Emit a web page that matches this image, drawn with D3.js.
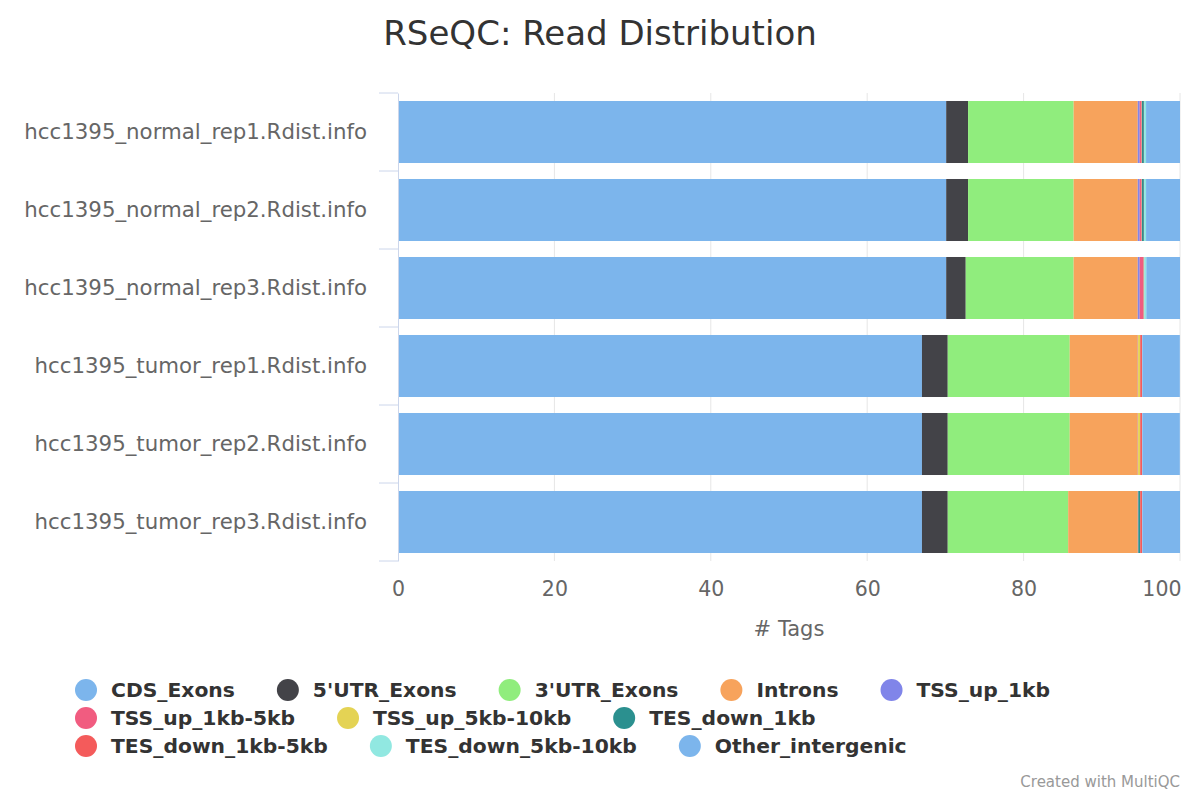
<!DOCTYPE html>
<html>
<head>
<meta charset="utf-8">
<script src="https://cdn.jsdelivr.net/npm/d3@7"></script>
<style>
  body { margin: 0; background: #fff; }
  svg, svg text { font-family: "DejaVu Sans", "Open Sans", sans-serif; }
</style>
</head>
<body>
<div id="chart"></div>
<script>
// samples, top to bottom
const samples = [
  "hcc1395_normal_rep1.Rdist.info",
  "hcc1395_normal_rep2.Rdist.info",
  "hcc1395_normal_rep3.Rdist.info",
  "hcc1395_tumor_rep1.Rdist.info",
  "hcc1395_tumor_rep2.Rdist.info",
  "hcc1395_tumor_rep3.Rdist.info"
];

const categories = [
  "CDS_Exons", "5'UTR_Exons", "3'UTR_Exons", "Introns", "TSS_up_1kb",
  "TSS_up_1kb-5kb", "TSS_up_5kb-10kb", "TES_down_1kb", "TES_down_1kb-5kb",
  "TES_down_5kb-10kb", "Other_intergenic"
];

const colors = [
  "#7cb5ec", "#434348", "#90ed7d", "#f7a35c", "#8085e9",
  "#f15c80", "#e4d354", "#2b908f", "#f45b5b", "#91e8e1", "#7cb5ec"
];

// percent of tags, one array per region (same order as samples)
const cdsExons        = [70.1, 70.1, 70.1, 67.0, 67.0, 67.0];
const utr5Exons       = [2.8, 2.8, 2.5, 3.3, 3.3, 3.3];
const utr3Exons       = [13.5, 13.5, 13.8, 15.6, 15.6, 15.4];
const introns         = [8.2, 8.2, 8.2, 8.7, 8.7, 8.9];
const tssUp1kb        = [0.25, 0.25, 0.25, 0.02, 0.02, 0.02];
const tssUp1to5kb     = [0.25, 0.25, 0.5, 0.02, 0.02, 0.02];
const tssUp5to10kb    = [0.03, 0.03, 0.03, 0.25, 0.25, 0.02];
const tesDown1kb      = [0.25, 0.25, 0.03, 0.02, 0.02, 0.25];
const tesDown1to5kb   = [0.03, 0.03, 0.03, 0.25, 0.25, 0.25];
const tesDown5to10kb  = [0.25, 0.25, 0.25, 0.02, 0.02, 0.02];
const otherIntergenic = [4.34, 4.34, 4.31, 4.80, 4.80, 4.82];

const seriesValues = [
  cdsExons, utr5Exons, utr3Exons, introns, tssUp1kb, tssUp1to5kb,
  tssUp5to10kb, tesDown1kb, tesDown1to5kb, tesDown5to10kb, otherIntergenic
];

const xTicks = [0, 20, 40, 60, 80, 100];

// rows for d3.stack
const rows = samples.map((s, i) => {
  const r = { sample: s };
  categories.forEach((c, k) => r[c] = seriesValues[k][i]);
  return r;
});

const W = 1200, H = 800;
const margin = { top: 93, right: 20, bottom: 239, left: 398 };
const width = W - margin.left - margin.right,
      height = H - margin.top - margin.bottom;

const svg = d3.select("#chart").append("svg")
  .attr("width", W)
  .attr("height", H);

// title
svg.append("text")
  .attr("x", W / 2).attr("y", 45)
  .attr("text-anchor", "middle")
  .attr("fill", "#333")
  .style("font-size", "34px")
  .text("RSeQC: Read Distribution");

const g = svg.append("g")
  .attr("transform", `translate(${margin.left},${margin.top})`);

const x = d3.scaleLinear().domain([0, 100]).range([0, width]);
const y = d3.scaleBand()
  .domain(samples)
  .range([0, height])
  .paddingInner(0.205)
  .paddingOuter(0.1025);

// grid lines
g.append("g")
  .selectAll("line")
  .data(xTicks.filter(d => d > 0))
  .enter().append("line")
    .attr("x1", d => x(d)).attr("x2", d => x(d))
    .attr("y1", 0).attr("y2", height)
    .attr("stroke", "#e6e6e6");

// stacked bars
const stack = d3.stack().keys(categories)(rows);
g.selectAll("g.series")
  .data(stack)
  .enter().append("g")
    .attr("class", "series")
    .attr("fill", (d, i) => colors[i])
  .selectAll("rect")
  .data(d => d)
  .enter().append("rect")
    .attr("x", d => x(d[0]))
    .attr("y", d => y(d.data.sample))
    .attr("width", d => x(d[1]) - x(d[0]))
    .attr("height", y.bandwidth());

// category axis
const yAxis = g.append("g")
  .call(d3.axisLeft(y).tickSize(0).tickPadding(31));
yAxis.attr("font-family", null);
yAxis.select(".domain").attr("stroke", "#ccd6eb");
yAxis.selectAll("text")
  .attr("fill", "#666")
  .style("font-size", "21.3px");

// tick marks between categories
const bounds = samples.map(s => y(s) - y.step() * y.paddingInner() / 2).concat([height]);
g.append("g")
  .selectAll("line")
  .data(bounds)
  .enter().append("line")
    .attr("x1", -19).attr("x2", 0)
    .attr("y1", d => d).attr("y2", d => d)
    .attr("stroke", "#ccd6eb");

// value axis
const xAxis = g.append("g")
  .attr("transform", `translate(0,${height})`)
  .call(d3.axisBottom(x).tickValues(xTicks).tickSize(0).tickPadding(20));
xAxis.attr("font-family", null);
xAxis.select(".domain").remove();
xAxis.selectAll("text")
  .attr("fill", "#666")
  .style("font-size", "20.5px");
// keep the last label inside the chart
xAxis.selectAll(".tick").filter(d => d === 100).select("text")
  .attr("text-anchor", "end")
  .attr("x", 1);

g.append("text")
  .attr("x", width / 2).attr("y", height + 75)
  .attr("text-anchor", "middle")
  .attr("fill", "#666")
  .style("font-size", "21px")
  .text("# Tags");

// legend, flowing left to right with wrap
const legend = svg.append("g").attr("class", "legend");
const legendLeft = 75, legendRight = 1100, rowH = 28, legendTop = 690;
let lx = legendLeft, ly = legendTop;
categories.forEach((c, i) => {
  const item = legend.append("g");
  item.append("circle")
    .attr("cx", 11).attr("cy", 0).attr("r", 11)
    .attr("fill", colors[i]);
  const t = item.append("text")
    .attr("x", 36).attr("y", 0)
    .attr("dy", "0.35em")
    .attr("fill", "#333")
    .style("font-size", "20.3px")
    .style("font-weight", "bold")
    .text(c);
  const w = 36 + t.node().getComputedTextLength();
  if (lx + w > legendRight && lx > legendLeft) {
    lx = legendLeft;
    ly += rowH;
  }
  item.attr("transform", `translate(${lx},${ly})`);
  lx += w + 42;
});

svg.append("text")
  .attr("x", 1180).attr("y", 787)
  .attr("text-anchor", "end")
  .attr("fill", "#999")
  .style("font-size", "15px")
  .text("Created with MultiQC");
</script>
</body>
</html>
